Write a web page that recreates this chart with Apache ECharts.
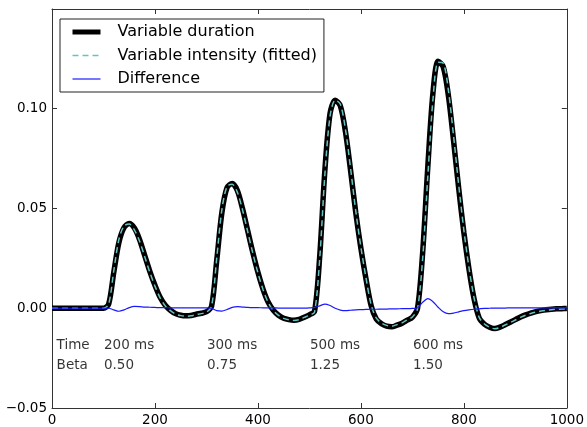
<!DOCTYPE html>
<html>
<head>
<meta charset="utf-8">
<script src="https://cdn.jsdelivr.net/npm/echarts@6/dist/echarts.min.js"></script>
<style>
  html, body { margin: 0; padding: 0; background: #fff; }
  #chart { width: 587px; height: 427px; }
</style>
</head>
<body>
<div id="chart"></div>
<script>
const timesMs = [0,10,20,30,40,50,60,70,80,90,100,110,120,130,140,150,160,170,180,190,200,
  210,220,230,240,250,260,270,280,290,300,310,320,330,340,350,360,370,380,390,400,
  410,420,430,440,450,460,470,480,490,500,510,520,530,540,550,560,570,580,590,600,
  610,620,630,640,650,660,670,680,690,700,710,720,730,740,750,760,770,780,790,800,
  810,820,830,840,850,860,870,880,890,900,910,920,930,940,950,960,970,980,990,1000];

const variableDuration = [0,0,0,0,0,0,0,0,0,0,0,0.002,0.018,0.033,0.0405,0.0425,0.0402,0.0345,0.0265,0.0185,0.0115,
  0.0055,0.0015,-0.001,-0.0027,-0.0035,-0.0038,-0.0036,-0.003,-0.0025,-0.0018,0.001,0.024,0.048,0.0605,0.0625,0.059,0.050,0.039,0.028,0.018,
  0.0095,0.003,-0.001,-0.0035,-0.005,-0.0057,-0.006,-0.0056,-0.0045,-0.0033,-0.0015,0.026,0.069,0.0975,0.1043,0.1015,0.0885,0.069,0.048,0.030,
  0.0145,0.0012,-0.0055,-0.0078,-0.009,-0.0093,-0.0085,-0.0075,-0.006,-0.0045,0.0,0.028,0.071,0.108,0.1238,0.121,0.1065,0.084,0.06,0.038,
  0.0195,0.0045,-0.005,-0.008,-0.0095,-0.0102,-0.0095,-0.0083,-0.007,-0.0057,-0.0044,-0.0033,-0.0024,-0.0017,-0.0012,-0.0008,-0.0005,-0.0003,-0.0002,-0.0001];

const variableIntensityFitted = [0,0,0,0,0,0,0,0,0,0,0,0.002,0.0188,0.0345,0.0413,0.0422,0.0393,0.0337,0.0259,0.018,0.0111,
  0.0052,0.0012,-0.0012,-0.0029,-0.0037,-0.004,-0.0038,-0.0032,-0.0027,-0.002,0.001,0.0252,0.0494,0.0611,0.0621,0.0582,0.0494,0.0386,0.0277,0.0177,
  0.0093,0.0028,-0.0012,-0.0036,-0.0051,-0.0058,-0.0061,-0.0057,-0.0046,-0.0035,-0.0019,0.0248,0.0669,0.0961,0.1043,0.1024,0.0897,0.07,0.0488,0.0307,
  0.0151,0.0017,-0.005,-0.0074,-0.0086,-0.009,-0.0082,-0.0073,-0.0058,-0.0044,-0.0003,0.025,0.0662,0.1047,0.1233,0.1228,0.1092,0.0864,0.0618,0.0392,
  0.0203,0.005,-0.0047,-0.0079,-0.0095,-0.0103,-0.0096,-0.0084,-0.0072,-0.0059,-0.0046,-0.0035,-0.0026,-0.0019,-0.0014,-0.001,-0.0007,-0.0005,-0.0004,-0.0003];

const difference = [0,0,0,0,0,0,0,0,0,0,0,0,-0.0008,-0.0015,-0.0008,0.0003,0.0009,0.0008,0.0006,0.0005,0.0004,
  0.0003,0.0003,0.0002,0.0002,0.0002,0.0002,0.0002,0.0002,0.0002,0.0002,0.0,-0.0012,-0.0014,-0.0006,0.0004,0.0008,0.0006,0.0004,0.0003,0.0003,
  0.0002,0.0002,0.0002,0.0001,0.0001,0.0001,0.0001,0.0001,0.0001,0.0002,0.0004,0.0012,0.0021,0.0014,0.0,-0.0009,-0.0012,-0.0010,-0.0008,-0.0007,
  -0.0006,-0.0005,-0.0005,-0.0004,-0.0004,-0.0003,-0.0003,-0.0002,-0.0002,-0.0001,0.0003,0.0030,0.0048,0.0033,0.0005,-0.0018,-0.0027,-0.0024,-0.0018,-0.0012,
  -0.0008,-0.0005,-0.0003,-0.0001,0.0,0.0001,0.0001,0.0001,0.0002,0.0002,0.0002,0.0002,0.0002,0.0002,0.0002,0.0002,0.0002,0.0002,0.0002,0.0002];

const xTicks = [0, 200, 400, 600, 800, 1000];
const yTickLabels = ['\u22120.05', '0.00', '0.05', '0.10', ''];

const annotationRows = ['Time', 'Beta'];
const annotationRowY = [-0.0185, -0.0285];
const annotationLabelX = 8;
const annotationColX = [100, 300, 500, 700];
const timeLabels = ['200 ms', '300 ms', '500 ms', '600 ms'];
const betaLabels = ['0.50', '0.75', '1.25', '1.50'];

const seriesNames = ['Variable duration', 'Variable intensity (fitted)', 'Difference'];
const seriesColors = ['#000000', '#66c2c2', '#1a1aff'];
const seriesWidths = [5.5, 1.5, 1.2];
const seriesTypes = ['solid', [6, 4], 'solid'];

function pairs(xs, ys) { return xs.map((x, i) => [x, ys[i]]); }

const annotationData = [];
annotationData.push([annotationLabelX, annotationRowY[0], annotationRows[0]]);
annotationData.push([annotationLabelX, annotationRowY[1], annotationRows[1]]);
annotationColX.forEach((x, i) => {
  annotationData.push([x, annotationRowY[0], timeLabels[i]]);
  annotationData.push([x, annotationRowY[1], betaLabels[i]]);
});

const FONT = 'DejaVu Sans';
const chart = echarts.init(document.getElementById('chart'), null, { renderer: 'canvas' });

const axisCommon = {
  type: 'value',
  axisLine: { show: true, onZero: false, lineStyle: { color: '#333', width: 1 } },
  axisTick: { show: true, inside: true, length: 5, lineStyle: { color: '#333', width: 1 } },
  splitLine: { show: false }
};

chart.setOption({
  animation: false,
  backgroundColor: '#fff',
  textStyle: { fontFamily: FONT },
  grid: { left: 52, right: 20, top: 9, bottom: 19, containLabel: false },
  legend: {
    orient: 'vertical',
    left: 60,
    top: 19,
    padding: [5, 7, 5, 10],
    itemWidth: 28,
    itemHeight: 16,
    itemGap: 7.5,
    borderColor: '#222',
    borderWidth: 1,
    borderRadius: 0,
    backgroundColor: '#fff',
    textStyle: { fontFamily: FONT, fontSize: 16, color: '#000', lineHeight: 16, padding: [0, 0, 0, 12] },
    data: seriesNames.map((n, i) => ({
      name: n,
      itemStyle: { opacity: 0, color: 'rgba(0,0,0,0)', borderWidth: 0 },
      lineStyle: { color: seriesColors[i], width: i === 0 ? 5 : seriesWidths[i], type: seriesTypes[i], opacity: 1 }
    }))
  },
  xAxis: [
    Object.assign({}, axisCommon, {
      min: 0, max: 1000, interval: 200, position: 'bottom',
      axisLabel: { show: true, margin: 5, fontSize: 13.5, color: '#000', fontFamily: FONT,
        formatter: v => xTicks.indexOf(v) >= 0 ? String(v) : '' }
    }),
    Object.assign({}, axisCommon, {
      min: 0, max: 1000, interval: 200, position: 'top',
      axisLabel: { show: false }
    })
  ],
  yAxis: [
    Object.assign({}, axisCommon, {
      min: -0.05, max: 0.15, interval: 0.05, position: 'left',
      axisLabel: { show: true, margin: 5, fontSize: 13.5, color: '#000', fontFamily: FONT,
        formatter: (v) => {
          const idx = Math.round((v + 0.05) / 0.05);
          return yTickLabels[idx] !== undefined ? yTickLabels[idx] : '';
        } }
    }),
    Object.assign({}, axisCommon, {
      min: -0.05, max: 0.15, interval: 0.05, position: 'right',
      axisLabel: { show: false }
    })
  ],
  series: [
    {
      name: seriesNames[0], type: 'line', xAxisIndex: 0, yAxisIndex: 0,
      data: pairs(timesMs, variableDuration),
      showSymbol: false, symbol: 'none', smooth: 0.3, z: 2,
      lineStyle: { color: seriesColors[0], width: seriesWidths[0], type: seriesTypes[0] },
      itemStyle: { color: seriesColors[0] }
    },
    {
      name: seriesNames[1], type: 'line', xAxisIndex: 0, yAxisIndex: 0,
      data: pairs(timesMs, variableIntensityFitted),
      showSymbol: false, symbol: 'none', smooth: 0.3, z: 3,
      lineStyle: { color: seriesColors[1], width: seriesWidths[1], type: seriesTypes[1] },
      itemStyle: { color: seriesColors[1] }
    },
    {
      name: seriesNames[2], type: 'line', xAxisIndex: 0, yAxisIndex: 0,
      data: pairs(timesMs, difference),
      showSymbol: false, symbol: 'none', smooth: 0.3, z: 4,
      lineStyle: { color: seriesColors[2], width: seriesWidths[2], type: seriesTypes[2] },
      itemStyle: { color: seriesColors[2] }
    },
    {
      name: 'annotations', type: 'scatter', xAxisIndex: 0, yAxisIndex: 0,
      data: annotationData,
      symbolSize: 1,
      itemStyle: { color: 'rgba(0,0,0,0)' },
      silent: true,
      label: {
        show: true, position: 'right', distance: 0,
        fontFamily: FONT, fontSize: 13.5, color: '#000',
        formatter: p => p.data[2]
      },
      z: 5
    }
  ]
});
</script>
</body>
</html>
